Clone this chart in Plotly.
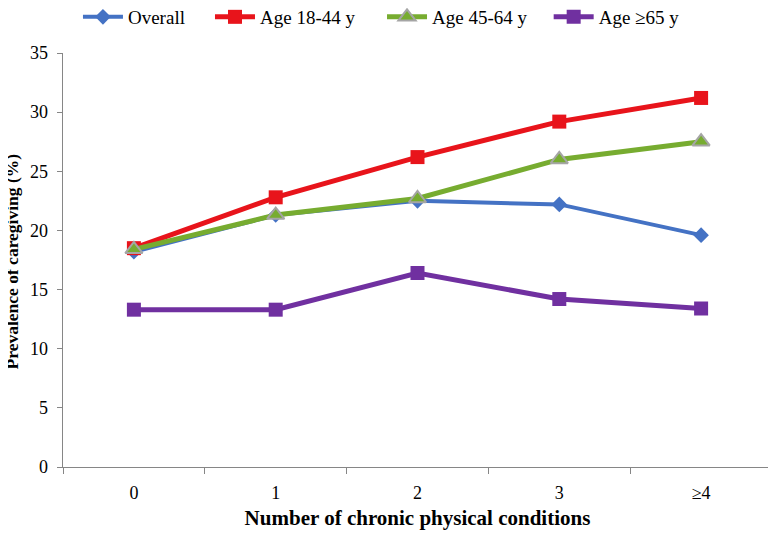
import plotly.graph_objects as go

categories = ["0", "1", "2", "3", "≥4"]
overall = [18.2, 21.3, 22.5, 22.2, 19.6]
age_18_44 = [18.5, 22.8, 26.2, 29.2, 31.2]
age_45_64 = [18.4, 21.3, 22.7, 26.0, 27.5]
age_65 = [13.3, 13.3, 16.4, 14.2, 13.4]
series_names = ["Overall", "Age 18-44 y", "Age 45-64 y", "Age ≥65 y"]
y_ticks = [0, 5, 10, 15, 20, 25, 30, 35]

font = "Liberation Serif"
legend_x = [0.0911, 0.263, 0.487, 0.704]

fig = go.Figure()
fig.add_trace(go.Scatter(x=categories, y=overall, name=series_names[0], mode="lines+markers",
                         legend="legend",
                         line=dict(color="#4472C4", width=4),
                         marker=dict(symbol="diamond", size=12, color="#4472C4")))
fig.add_trace(go.Scatter(x=categories, y=age_18_44, name=series_names[1], mode="lines+markers",
                         legend="legend2",
                         line=dict(color="#E8141B", width=5),
                         marker=dict(symbol="square", size=14, color="#E8141B")))
fig.add_trace(go.Scatter(x=categories, y=age_45_64, name=series_names[2], mode="lines+markers",
                         legend="legend3",
                         line=dict(color="#77AC30", width=5),
                         marker=dict(symbol="triangle-up", size=15, color="#77AC30",
                                     line=dict(color="#A5A5A5", width=2))))
fig.add_trace(go.Scatter(x=categories, y=age_65, name=series_names[3], mode="lines+markers",
                         legend="legend4", yaxis="y2",
                         line=dict(color="#7030A0", width=5),
                         marker=dict(symbol="square", size=14, color="#7030A0")))

legend_common = dict(orientation="h", xanchor="left", y=1.087, yanchor="middle",
                     xref="container", yref="paper",
                     font=dict(size=19, family=font, color="black"),
                     itemwidth=40, bgcolor="rgba(0,0,0,0)")

fig.update_layout(
    width=768, height=525,
    margin=dict(l=40, r=4, t=45, b=66, autoexpand=False),
    plot_bgcolor="white", paper_bgcolor="white",
    font=dict(family=font, size=18, color="black"),
    showlegend=True,
    legend=dict(x=legend_x[0], **legend_common),
    legend2=dict(x=legend_x[1], **legend_common),
    legend3=dict(x=legend_x[2], **legend_common),
    legend4=dict(x=legend_x[3], **legend_common),
    xaxis=dict(type="category", range=[-0.5, 4.5], domain=[15 / 724, 1],
               showline=True, linecolor="#868686",
               linewidth=1, ticks="outside", tickson="boundaries", ticklen=6,
               tickcolor="#868686", showgrid=False, zeroline=False,
               ticklabelstandoff=9,
               tickfont=dict(family=font, size=18, color="black"),
               title=dict(text="<b>Number of chronic physical conditions</b>",
                          font=dict(size=21, family=font, color="black"), standoff=8)),
    yaxis=dict(range=[0, 35], tickvals=y_ticks, showticklabels=False, showline=True,
               linecolor="#868686", linewidth=1, ticks="outside", ticklen=5,
               tickcolor="#868686", showgrid=False, zeroline=False),
    yaxis2=dict(range=[0, 35], tickvals=y_ticks, overlaying="y", anchor="free",
                position=0, side="left", showline=False, ticks="",
                showgrid=False, zeroline=False,
                tickfont=dict(family=font, size=18, color="black")),
    annotations=[dict(text="<b>Prevalence of caregiving (%)</b>", textangle=-90,
                      xref="paper", yref="paper", x=-0.0497, y=0.4964,
                      xanchor="center", yanchor="middle", showarrow=False,
                      font=dict(size=17.5, family=font, color="black"))],
)

fig.write_html("out.html")
